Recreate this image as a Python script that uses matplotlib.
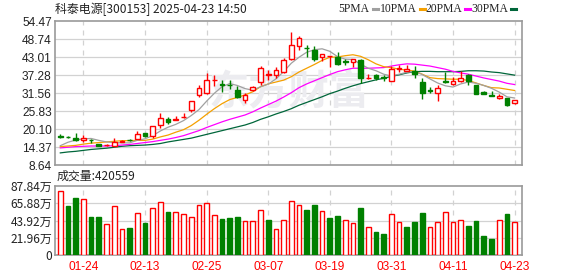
import numpy as np
import matplotlib
matplotlib.use('Agg')
import matplotlib.pyplot as plt
from matplotlib.lines import Line2D

# ---- data ----
opens = [17.9, 17.6, 17.25, 16.5, 16.6, 15.3, 14.9, 14.8, 16.1, 16.7,
         17.0, 18.75, 17.8, 21.5, 23.4, 23.0, 23.8, 26.3, 31.1, 31.5,
         35.6, 34.5, 34.2, 32.7, 29.3, 32.5, 35.1, 37.5, 37.2, 38.2,
         42.45, 46.6, 46.1, 45.4, 43.1, 43.3, 43.0, 41.9, 41.4, 42.0,
         36.3, 37.4, 36.6, 35.5, 39.3, 38.7, 38.7, 35.1, 32.6, 31.5,
         35.5, 34.5, 35.3, 37.2, 34.1, 31.9, 31.0, 30.0, 30.0, 28.5]
highs = [18.5, 17.9, 18.75, 18.2, 16.8, 15.4, 15.2, 17.2, 16.6, 17.0,
         19.6, 18.8, 21.1, 25.2, 23.9, 24.4, 25.2, 29.1, 34.3, 38.0,
         37.4, 35.85, 35.6, 33.7, 31.5, 33.8, 40.2, 38.9, 40.0, 42.7,
         51.0, 49.7, 46.8, 46.7, 44.0, 43.5, 44.7, 42.5, 42.6, 42.5,
         37.7, 37.7, 37.4, 40.1, 40.6, 40.6, 40.1, 36.4, 33.4, 34.3,
         38.3, 36.6, 38.5, 37.7, 34.2, 32.3, 32.2, 31.4, 30.1, 29.4]
lows = [17.3, 17.2, 16.4, 16.1, 15.7, 14.6, 14.8, 14.7, 16.0, 16.2,
        16.8, 17.7, 17.4, 20.4, 21.6, 22.9, 23.7, 25.6, 30.2, 31.3,
        33.7, 31.9, 32.9, 30.0, 28.3, 32.3, 34.0, 35.8, 36.3, 37.9,
        42.0, 45.3, 43.0, 41.8, 41.8, 40.0, 40.5, 40.6, 39.9, 34.8,
        36.2, 35.8, 35.5, 35.3, 38.2, 38.6, 36.4, 29.8, 31.5, 29.1,
        34.7, 34.3, 35.2, 34.3, 31.2, 31.3, 30.7, 29.6, 27.5, 28.1]
closes = [17.7, 17.5, 16.55, 17.15, 16.5, 14.7, 15.0, 16.1, 16.3, 16.5,
          18.5, 17.8, 21.0, 23.6, 22.4, 23.2, 24.0, 29.0, 33.1, 35.7,
          35.9, 34.1, 34.0, 30.3, 30.9, 33.4, 39.6, 37.7, 38.9, 42.1,
          46.9, 49.1, 45.9, 42.5, 43.9, 43.4, 40.8, 41.6, 42.4, 36.4,
          36.5, 36.4, 36.3, 39.4, 39.5, 39.4, 37.7, 31.6, 32.2, 33.2,
          35.0, 35.5, 36.4, 35.5, 31.3, 31.4, 30.8, 30.6, 27.9, 29.3]

ma5 = [14.8, 15.9, 16.6, 17.0, 17.1, 16.5, 16.0, 15.8, 15.7, 15.7,
       16.5, 17.0, 18.0, 19.5, 20.7, 21.6, 22.8, 24.4, 26.3, 29.0,
       31.5, 33.6, 34.6, 34.0, 33.0, 32.5, 33.6, 34.4, 36.1, 38.4,
       41.1, 43.0, 44.6, 45.4, 45.7, 44.9, 43.2, 42.4, 42.3, 40.8,
       39.5, 38.7, 37.6, 37.0, 37.6, 38.2, 38.5, 37.5, 36.1, 34.8,
       33.9, 33.5, 34.5, 35.1, 34.7, 34.0, 33.1, 31.9, 30.4, 30.0]
ma10 = [14.5, 14.7, 14.9, 15.3, 15.6, 15.8, 16.0, 16.2, 16.4, 16.4,
        16.5, 16.5, 16.9, 17.6, 18.2, 19.1, 19.9, 21.2, 22.9, 24.8,
        26.6, 28.2, 29.5, 30.2, 31.0, 32.0, 33.6, 34.5, 35.1, 35.7,
        36.8, 38.3, 39.5, 40.7, 42.0, 43.0, 43.1, 43.5, 43.8, 43.3,
        42.2, 40.9, 40.0, 39.7, 39.2, 38.9, 38.6, 37.6, 36.5, 36.2,
        36.1, 36.0, 36.0, 35.6, 34.8, 34.0, 33.3, 33.2, 32.8, 32.4]
ma20 = [14.1, 14.3, 14.5, 14.6, 14.7, 14.7, 14.7, 14.8, 15.0, 15.2,
        15.5, 15.8, 16.1, 16.5, 16.9, 17.4, 18.0, 18.8, 19.6, 20.6,
        21.5, 22.4, 23.2, 23.9, 24.6, 25.6, 26.8, 27.9, 29.0, 30.3,
        31.7, 33.3, 34.5, 35.5, 36.5, 37.5, 38.4, 39.0, 39.5, 39.5,
        39.5, 39.6, 39.7, 40.2, 40.6, 40.9, 40.8, 40.5, 40.2, 39.7,
        39.2, 38.5, 38.0, 37.6, 37.0, 36.4, 35.9, 35.4, 34.7, 34.3]
ma30 = [12.5, 12.8, 13.0, 13.3, 13.6, 13.8, 14.0, 14.3, 14.6, 14.8,
        14.9, 15.0, 15.2, 15.5, 16.0, 16.4, 16.8, 17.2, 17.8, 18.4,
        19.0, 19.6, 20.2, 20.8, 21.4, 22.2, 23.2, 24.0, 24.9, 25.7,
        26.6, 27.7, 28.6, 29.5, 30.4, 31.4, 32.2, 33.1, 33.9, 34.6,
        35.2, 35.8, 36.3, 36.9, 37.4, 38.0, 38.4, 38.5, 38.5, 38.4,
        38.4, 38.4, 38.5, 38.7, 38.7, 38.6, 38.3, 38.1, 37.7, 37.3]

# volume in 万 shares, and its colour (R = up, G = down)
volume = [81.5, 62.8, 73.0, 70.9, 48.8, 48.8, 39.5, 62.4, 33.1, 34.8,
          53.5, 41.2, 59.8, 67.5, 55.2, 54.7, 52.2, 48.4, 63.7, 66.2,
          50.5, 45.8, 47.1, 48.4, 43.3, 43.3, 57.3, 44.6, 33.1, 44.6,
          68.7, 63.7, 57.7, 63.7, 56.0, 47.5, 49.6, 44.6, 40.7, 60.3,
          35.6, 29.7, 26.7, 52.2, 42.0, 36.1, 42.4, 53.9, 35.6, 42.0,
          55.2, 42.0, 44.6, 36.9, 43.3, 24.2, 20.4, 44.6, 52.2, 42.0559]
vol_dir = "RGGRGGRRRG" "RGRRGRRRRR" "RGGGRRRGRR" "RRGGRGGRRG" "RGGRRGGGRR" "RRRGGGGRGR"

price_ticks = [8.64, 14.37, 20.10, 25.83, 31.56, 37.28, 43.01, 48.74, 54.47]
vol_ticks = [0, 21.96, 43.92, 65.88, 87.84]
vol_tick_labels = ['0', '21.96万', '43.92万', '65.88万', '87.84万']
date_tick_pos = [3, 11, 19, 27, 35, 43, 51, 59]
date_tick_labels = ['01-24', '02-13', '02-25', '03-07', '03-19', '03-31', '04-11', '04-23']

title = '科泰电源[300153] 2025-04-23 14:50'
vol_title = '成交量:420559'
ma_names = ['5PMA', '10PMA', '20PMA', '30PMA']
ma_colors = ['#a0a0a0', '#f5a000', '#ff00ff', '#00663a']

# ---- style ----
RED = '#ff0000'
GREEN = '#008000'
GRID = '#d2d2d2'
SPINE = '#9a9a9a'
CJK = ['Noto Sans CJK SC', 'DejaVu Sans']
plt.rcParams['font.family'] = ['Liberation Sans', 'Noto Sans CJK SC']

W, H = 578, 276
fig = plt.figure(figsize=(W / 100, H / 100), dpi=100)


def px_rect(x0, y0, x1, y1):
    return [x0 / W, 1 - y1 / H, (x1 - x0) / W, (y1 - y0) / H]


ax = fig.add_axes(px_rect(55.3, 21.3, 522.3, 165))
axv = fig.add_axes(px_rect(55.3, 186, 522.3, 255))

x = np.arange(len(closes))
xlim = (-0.65, 60.0)
bw = 0.62

for a in (ax, axv):
    a.set_xlim(*xlim)
    for s in a.spines.values():
        s.set_color(SPINE)
        s.set_linewidth(1.2)
    a.tick_params(length=0, labelsize=8.6, colors='#222222', pad=2.5)
    for p in date_tick_pos:
        a.axvline(p, color=GRID, lw=0.9, ls=(0, (4, 4)), zorder=0)

# price panel
ax.set_ylim(price_ticks[0], price_ticks[-1])
ax.set_yticks(price_ticks)
ax.set_yticklabels(['%.2f' % v for v in price_ticks])
ax.set_xticks([])
for v in price_ticks[1:-1]:
    ax.axhline(v, color=GRID, lw=0.9, zorder=0)

ax.text(0.5, 0.5, '东方财富', transform=ax.transAxes, ha='center', va='center',
        fontsize=29, fontweight='bold', color='#ececf0', family=CJK,
        zorder=0.5)

for arr, c in zip([ma30, ma20, ma10, ma5], ma_colors[::-1]):
    ax.plot(x, arr, color=c, lw=0.9, zorder=2)

o = np.array(opens); c = np.array(closes)
up = c >= o
cols = np.where(up, RED, GREEN)
ax.vlines(x, lows, highs, colors=cols, lw=1, zorder=3)
bottoms = np.minimum(o, c)
heights = np.maximum(np.abs(c - o), 0.12)
ax.bar(x[up], heights[up], bottom=bottoms[up], width=bw, facecolor='white',
       edgecolor=RED, lw=1, zorder=4)
ax.bar(x[~up], heights[~up], bottom=bottoms[~up], width=bw, facecolor=GREEN,
       edgecolor=GREEN, lw=1, zorder=4)

# volume panel
axv.set_ylim(0, vol_ticks[-1])
axv.set_yticks(vol_ticks)
axv.set_yticklabels(vol_tick_labels, family=CJK)
for v in vol_ticks[1:-1]:
    axv.axhline(v, color=GRID, lw=0.9, zorder=0)
vup = np.array([d == 'R' for d in vol_dir])
vol = np.array(volume)
axv.bar(x[vup], vol[vup], width=bw, facecolor='white', edgecolor=RED, lw=1, zorder=3)
axv.bar(x[~vup], vol[~vup], width=bw, facecolor=GREEN, edgecolor=GREEN, lw=1, zorder=3)
axv.set_xticks(date_tick_pos)
axv.set_xticklabels(date_tick_labels, color=RED)
axv.tick_params(axis='x', pad=4.5, labelcolor=RED)

# titles
fig.text(55 / W, 1 - 9 / H, title, fontsize=8.6, family=CJK, va='center', ha='left', color='#222222')
fig.text(57 / W, 1 - 176.5 / H, vol_title, fontsize=8.6, family=CJK, va='center', ha='left', color='#222222')

# legend
leg_x = [338.7, 379.7, 425.3, 471.3]
for name, col, lx in zip(ma_names, ma_colors, leg_x):
    t = fig.text(lx / W, 1 - 9 / H, name, fontsize=8.4, family='Liberation Serif',
                 va='center', ha='left', color='#222222')
    fig.canvas.draw()
    bb = t.get_window_extent()
    dx0 = bb.x1 + 3
    fig.add_artist(Line2D([dx0 / W, (dx0 + 5) / W], [1 - 9 / H, 1 - 9 / H],
                          color=col, lw=2.2, transform=fig.transFigure))

fig.savefig('out.png', dpi=100)
